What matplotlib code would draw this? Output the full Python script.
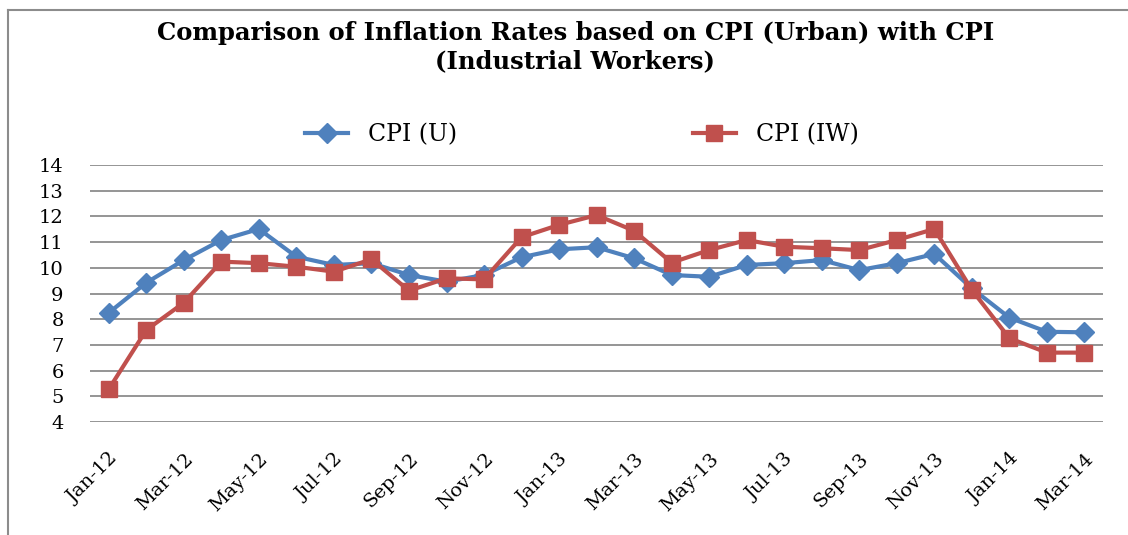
import matplotlib.pyplot as plt
from matplotlib.lines import Line2D

months = ['Jan-12', 'Feb-12', 'Mar-12', 'Apr-12', 'May-12', 'Jun-12', 'Jul-12',
          'Aug-12', 'Sep-12', 'Oct-12', 'Nov-12', 'Dec-12', 'Jan-13', 'Feb-13',
          'Mar-13', 'Apr-13', 'May-13', 'Jun-13', 'Jul-13', 'Aug-13', 'Sep-13',
          'Oct-13', 'Nov-13', 'Dec-13', 'Jan-14', 'Feb-14', 'Mar-14']
cpi_u = [8.25, 9.42, 10.30, 11.08, 11.51, 10.43, 10.11, 10.18, 9.72, 9.46,
         9.72, 10.41, 10.72, 10.80, 10.37, 9.72, 9.65, 10.11, 10.18, 10.30,
         9.91, 10.18, 10.54, 9.20, 8.06, 7.51, 7.49]
cpi_iw = [5.28, 7.58, 8.64, 10.24, 10.18, 10.04, 9.85, 10.33, 9.11, 9.59,
          9.55, 11.19, 11.67, 12.05, 11.44, 10.20, 10.69, 11.08, 10.82, 10.76,
          10.69, 11.08, 11.51, 9.14, 7.26, 6.70, 6.70]

plt.rcParams['font.family'] = ['DejaVu Serif']

fig = plt.figure(figsize=(11.28, 5.35), dpi=100)
ax = fig.add_axes([0.0798, 0.2112, 0.8982, 0.4804])

x = list(range(len(months)))
ax.plot(x, cpi_u, color='#4F81BD', lw=3, marker='D', ms=10, label='CPI (U)')
ax.plot(x, cpi_iw, color='#C0504D', lw=3, marker='s', ms=12, label='CPI (IW)')

ax.set_xlim(-0.5, len(months) - 0.5)
ax.set_ylim(4, 14)
ax.set_yticks(range(4, 15))
ax.set_xticks(x[::2])
ax.set_xticklabels(months[::2], rotation=45, ha='right', rotation_mode='anchor',
                   fontsize=14)
ax.tick_params(axis='y', labelsize=14, length=0, pad=19)
ax.tick_params(axis='x', length=0, pad=20)
ax.grid(axis='y', color='#8c8c8c', lw=1.3)
ax.set_axisbelow(True)
for s in ax.spines.values():
    s.set_visible(False)

fig.text(0.51, 0.912, 'Comparison of Inflation Rates based on CPI (Urban) with CPI\n(Industrial Workers)',
         ha='center', va='center', fontsize=17.5, fontweight='bold', linespacing=1.23)

fig.legend(loc='center', bbox_to_anchor=(0.516, 0.748), ncol=2, frameon=False,
           fontsize=17, columnspacing=10, handlelength=1.8, handletextpad=0.85)

# outer chart frame
fig.add_artist(Line2D([8 / 1128, 8 / 1128], [0, 1 - 10 / 535], color='#8c8c8c', lw=1.5))
fig.add_artist(Line2D([8 / 1128, 1], [1 - 10 / 535, 1 - 10 / 535], color='#8c8c8c', lw=1.5))

fig.savefig('out.png', dpi=100)
